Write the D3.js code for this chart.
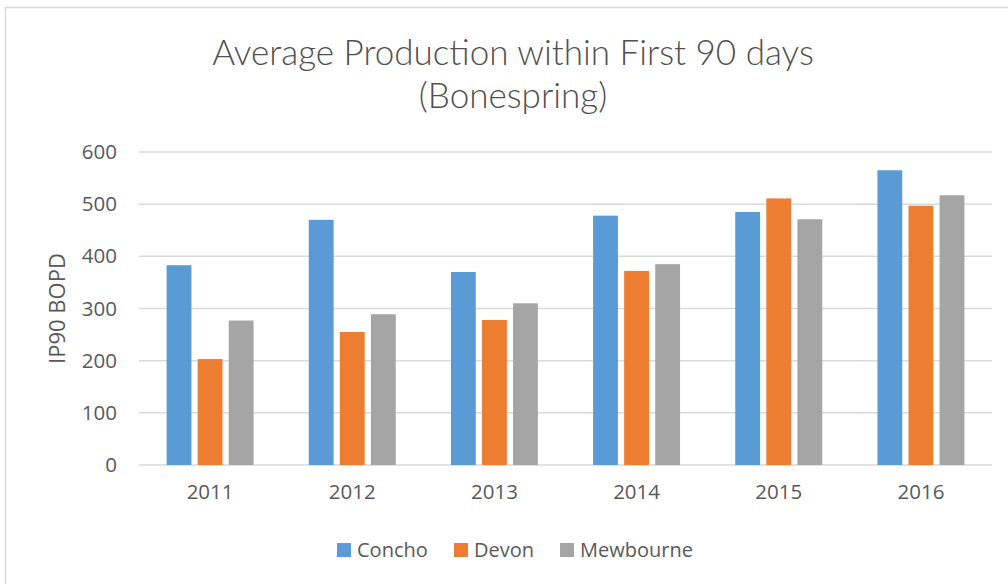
<!DOCTYPE html>
<html>
<head>
<meta charset="utf-8">
<script src="https://cdn.jsdelivr.net/npm/d3@7"></script>
<style>
  body { margin: 0; background: #fff; }
  svg { display: block; }
</style>
</head>
<body>
<svg id="chart" width="1008" height="584"></svg>
<script>
(function () {
    var width = 1008, height = 584

    // chart data
    const years = ["2011", "2012", "2013", "2014", "2015", "2016"];
    const companies = ["Concho", "Devon", "Mewbourne"];
    const concho = [383, 470, 370, 478, 485, 565];
    const devon = [203, 255, 278, 372, 511, 497];
    const mewbourne = [277, 289, 310, 385, 471, 517];
    const yTicks = [0, 100, 200, 300, 400, 500, 600];
    const colors = ["#5B9BD5", "#ED7D31", "#A5A5A5"];

    const series = [concho, devon, mewbourne];
    const rows = years.map((y, i) => ({
        year: y,
        values: companies.map((c, j) => ({ name: c, value: series[j][i] }))
    }));

    const margin = { top: 152, left: 139, right: 16, bottom: 119 };
    const plotW = width - margin.left - margin.right;
    const plotH = height - margin.top - margin.bottom;

    const svg = d3.select("#chart");

    // outer chart border
    svg.append("rect")
        .attr("x", 5.5).attr("y", 7.5)
        .attr("width", width).attr("height", height)
        .attr("fill", "none")
        .attr("stroke", "#d9d9d9")
        .attr("stroke-width", 1.5);

    const g = svg.append("g").attr("transform", `translate(${margin.left},${margin.top})`);

    const x0 = d3.scaleBand().domain(years).range([0, plotW]).padding(0);
    const groupW = 87;
    const x1 = d3.scaleBand().domain(companies)
        .range([(x0.bandwidth() - groupW) / 2, (x0.bandwidth() + groupW) / 2])
        .paddingInner(0.2);
    const y = d3.scaleLinear().domain([0, 600]).range([plotH, 0]);

    // gridlines
    g.append("g")
        .selectAll("line")
        .data(yTicks)
        .join("line")
        .attr("x1", 0).attr("x2", plotW)
        .attr("y1", d => y(d)).attr("y2", d => y(d))
        .attr("stroke", "#d9d9d9")
        .attr("stroke-width", 1.5);

    // bars
    g.append("g")
        .selectAll("g")
        .data(rows)
        .join("g")
        .attr("transform", d => `translate(${x0(d.year)},0)`)
        .selectAll("rect")
        .data(d => d.values)
        .join("rect")
        .attr("x", d => x1(d.name))
        .attr("width", x1.bandwidth())
        .attr("y", d => y(d.value))
        .attr("height", d => y(0) - y(d.value))
        .attr("fill", (d, i) => colors[i]);

    // y axis
    const yAxis = g.append("g")
        .call(d3.axisLeft(y).tickValues(yTicks).tickSize(0).tickPadding(22));
    yAxis.select(".domain").remove();
    yAxis.selectAll("text")
        .attr("fill", "#595959")
        .style("font-family", "'Open Sans', sans-serif")
        .style("font-size", "20.5px");

    // x axis
    const xAxis = g.append("g")
        .attr("transform", `translate(0,${plotH})`)
        .call(d3.axisBottom(x0).tickSize(0).tickPadding(19));
    xAxis.select(".domain").remove();
    xAxis.selectAll("text")
        .attr("fill", "#595959")
        .style("font-family", "'Open Sans', sans-serif")
        .style("font-size", "20.5px");

    // y axis label
    svg.append("text")
        .attr("transform", `translate(65,${margin.top + plotH / 2}) rotate(-90)`)
        .attr("text-anchor", "middle")
        .attr("fill", "#595959")
        .style("font-family", "'Open Sans', sans-serif")
        .style("font-size", "22px")
        .text("IP90 BOPD");

    // title
    const title = svg.append("text")
        .attr("text-anchor", "middle")
        .attr("fill", "#505050")
        .style("font-family", "Lato, sans-serif")
        .style("font-weight", 300)
        .style("font-size", "35px");
    title.append("tspan").attr("x", 513).attr("y", 65).text("Average Production within First 90 days");
    title.append("tspan").attr("x", 513).attr("y", 108).text("(Bonespring)");

    // legend
    const legendX = [337, 454, 560];
    const legend = svg.append("g")
        .selectAll("g")
        .data(companies)
        .join("g")
        .attr("transform", (d, i) => `translate(${legendX[i]},543)`);
    legend.append("rect")
        .attr("width", 14).attr("height", 14)
        .attr("fill", (d, i) => colors[i]);
    legend.append("text")
        .attr("x", 20).attr("y", 14)
        .attr("fill", "#595959")
        .style("font-family", "'Open Sans', sans-serif")
        .style("font-size", "20px")
        .text(d => d);
})();
</script>
</body>
</html>
